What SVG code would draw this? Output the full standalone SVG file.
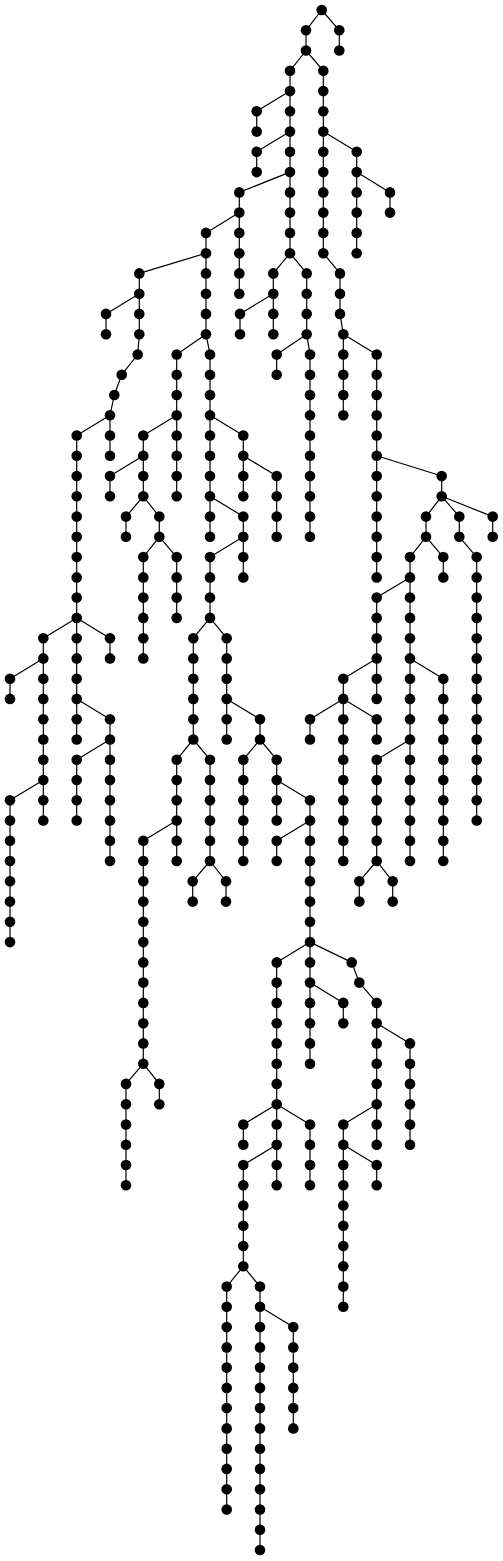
<svg xmlns="http://www.w3.org/2000/svg" xmlns:xlink="http://www.w3.org/1999/xlink" width="503" height="1561" viewBox="0 0 503 1561">
<style>
.edges path{fill:none;stroke:#000;stroke-width:1.2;stroke-linejoin:round}
</style>
<defs><circle id="d" r="5.3" fill="#000"/></defs>
<rect width="503" height="1561" fill="#fff"/>
<g class="edges" id="connectors">
<path d="M321.7,10 L306,30.3 L306,50.5 L290,70.8 L290,253.2"/>
<path d="M306,50.5 L323.3,70.8 L323.3,253.2 L340,273.4 L340,313.9 L343.3,334.2 L343.3,415.3"/>
<path d="M321.7,10 L339.3,30.3 L339.3,50.5"/>
<path d="M290,91.1 L256.7,111.3 L256.7,131.6"/>
<path d="M290,131.6 L256.7,151.8 L256.7,172.1"/>
<path d="M290,172.1 L239.3,192.4 L239.3,293.7"/>
<path d="M239.3,212.6 L206,232.9 L206,334.2 L176.7,354.5 L176.7,496.3"/>
<path d="M206,253.2 L139.3,273.4 L139.3,334.2 L137.7,354.5 L121.7,374.7 L114.3,395 L110,415.3 L76.7,435.5 L76.7,739.5"/>
<path d="M139.3,293.7 L106,313.9 L106,334.2"/>
<path d="M110,415.3 L110,455.8"/>
<path d="M76.7,617.9 L43.3,638.2 L43.3,820.5"/>
<path d="M76.7,617.9 L110,638.2 L110,658.4"/>
<path d="M43.3,658.4 L10,678.7 L10,698.9"/>
<path d="M43.3,780 L10,800.3 L10,942.1"/>
<path d="M76.7,698.9 L110,719.2 L110,861"/>
<path d="M110,739.5 L76.7,759.7 L76.7,820.5"/>
<path d="M176.7,415.3 L143.3,435.5 L143.3,496.3"/>
<path d="M143.3,455.8 L110,476 L110,496.3"/>
<path d="M143.3,496.3 L126,516.6 L126,536.8"/>
<path d="M143.3,496.3 L159.3,516.6 L159.3,536.8 L143.3,557.1 L143.3,658.4"/>
<path d="M159.3,536.8 L176.7,557.1 L176.7,617.9"/>
<path d="M206,334.2 L210,354.5 L210,536.8"/>
<path d="M210,415.3 L243.3,435.5 L243.3,496.3"/>
<path d="M243.3,455.8 L276.7,476 L276.7,536.8"/>
<path d="M210,496.3 L243.3,516.6 L243.3,577.4"/>
<path d="M243.3,536.8 L210,557.1 L210,617.9 L193.3,638.2 L193.3,739.5"/>
<path d="M210,617.9 L226.7,638.2 L226.7,739.5"/>
<path d="M226.7,698.9 L260,719.2 L260,739.5"/>
<path d="M193.3,739.5 L176.7,759.7 L176.7,861"/>
<path d="M176.7,820.5 L143.3,840.8 L143.3,1063.7"/>
<path d="M143.3,1063.7 L126,1083.9 L126,1185.3"/>
<path d="M143.3,1063.7 L159.3,1083.9 L159.3,1104.2"/>
<path d="M193.3,739.5 L210,759.7 L210,861"/>
<path d="M210,861 L192.7,881.3 L192.7,901.6"/>
<path d="M210,861 L226,881.3 L226,901.6"/>
<path d="M260,739.5 L243.3,759.7 L243.3,861"/>
<path d="M260,739.5 L276.7,759.7 L276.7,820.5"/>
<path d="M276.7,780 L310,800.3 L310,942.1"/>
<path d="M310,820.5 L276.7,840.8 L276.7,861"/>
<path d="M310,942.1 L276.7,962.4 L276.7,1185.3"/>
<path d="M310,942.1 L310,1063.7"/>
<path d="M310,982.6 L343.3,1002.9 L343.3,1023.2"/>
<path d="M310,942.1 L351.7,962.4 L359.3,982.6 L376.7,1002.9 L376.7,1144.7"/>
<path d="M376.7,1023.2 L410,1043.4 L410,1144.7"/>
<path d="M376.7,1104.2 L343.3,1124.5 L343.3,1306.8"/>
<path d="M343.3,1144.7 L376.7,1165 L376.7,1185.3"/>
<path d="M276.7,1104.2 L243.3,1124.5 L243.3,1144.7"/>
<path d="M276.7,1104.2 L310,1124.5 L310,1185.3"/>
<path d="M276.7,1144.7 L243.3,1165 L243.3,1266.3"/>
<path d="M243.3,1266.3 L226.7,1286.6 L226.7,1509.5"/>
<path d="M243.3,1266.3 L260,1286.6 L260,1550"/>
<path d="M260,1306.8 L293.3,1327.1 L293.3,1428.4"/>
<path d="M323.3,131.6 L356.7,151.8 L356.7,253.2"/>
<path d="M356.7,172.1 L390,192.4 L390,212.6"/>
<path d="M290,253.2 L273.3,273.4 L273.3,334.2"/>
<path d="M273.3,293.7 L240,313.9 L240,334.2"/>
<path d="M290,253.2 L306.7,273.4 L306.7,334.2 L310,354.5 L310,536.8"/>
<path d="M306.7,334.2 L276.7,354.5 L276.7,374.7"/>
<path d="M343.3,334.2 L376.7,354.5 L376.7,577.4"/>
<path d="M376.7,455.8 L441.7,476 L441.7,496.3"/>
<path d="M441.7,496.3 L426,516.6 L426,536.8"/>
<path d="M441.7,496.3 L459.3,516.6 L459.3,536.8 L476.7,557.1 L476.7,820.5"/>
<path d="M441.7,496.3 L492.7,516.6 L492.7,536.8"/>
<path d="M426,536.8 L410,557.1 L410,861"/>
<path d="M426,536.8 L443.3,557.1 L443.3,577.4"/>
<path d="M410,577.4 L376.7,597.6 L376.7,698.9"/>
<path d="M410,658.4 L443.3,678.7 L443.3,861"/>
<path d="M410,739.5 L376.7,759.7 L376.7,861"/>
<path d="M376.7,861 L359.3,881.3 L359.3,901.6"/>
<path d="M376.7,861 L392.7,881.3 L392.7,901.6"/>
<path d="M376.7,658.4 L343.3,678.7 L343.3,861"/>
<path d="M343.3,698.9 L310,719.2 L310,739.5"/>
<path d="M343.3,698.9 L376.7,719.2 L376.7,739.5"/>
</g>
<g id="nodes">
<g id="n1"><use href="#d" x="321.7" y="10"/></g>
<g id="n2"><use href="#d" x="306" y="30.3"/></g>
<g id="n3"><use href="#d" x="306" y="50.5"/></g>
<g id="n4"><use href="#d" x="290" y="70.8"/></g>
<g id="n5"><use href="#d" x="290" y="91.1"/></g>
<g id="n6"><use href="#d" x="290" y="111.3"/></g>
<g id="n7"><use href="#d" x="290" y="131.6"/></g>
<g id="n8"><use href="#d" x="290" y="151.8"/></g>
<g id="n9"><use href="#d" x="290" y="172.1"/></g>
<g id="n10"><use href="#d" x="290" y="192.4"/></g>
<g id="n11"><use href="#d" x="290" y="212.6"/></g>
<g id="n12"><use href="#d" x="290" y="232.9"/></g>
<g id="n13"><use href="#d" x="290" y="253.2"/></g>
<g id="n14"><use href="#d" x="323.3" y="70.8"/></g>
<g id="n15"><use href="#d" x="323.3" y="91.1"/></g>
<g id="n16"><use href="#d" x="323.3" y="111.3"/></g>
<g id="n17"><use href="#d" x="323.3" y="131.6"/></g>
<g id="n18"><use href="#d" x="323.3" y="151.8"/></g>
<g id="n19"><use href="#d" x="323.3" y="172.1"/></g>
<g id="n20"><use href="#d" x="323.3" y="192.4"/></g>
<g id="n21"><use href="#d" x="323.3" y="212.6"/></g>
<g id="n22"><use href="#d" x="323.3" y="232.9"/></g>
<g id="n23"><use href="#d" x="323.3" y="253.2"/></g>
<g id="n24"><use href="#d" x="340" y="273.4"/></g>
<g id="n25"><use href="#d" x="340" y="293.7"/></g>
<g id="n26"><use href="#d" x="340" y="313.9"/></g>
<g id="n27"><use href="#d" x="343.3" y="334.2"/></g>
<g id="n28"><use href="#d" x="343.3" y="354.5"/></g>
<g id="n29"><use href="#d" x="343.3" y="374.7"/></g>
<g id="n30"><use href="#d" x="343.3" y="395"/></g>
<g id="n31"><use href="#d" x="343.3" y="415.3"/></g>
<g id="n32"><use href="#d" x="339.3" y="30.3"/></g>
<g id="n33"><use href="#d" x="339.3" y="50.5"/></g>
<g id="n34"><use href="#d" x="256.7" y="111.3"/></g>
<g id="n35"><use href="#d" x="256.7" y="131.6"/></g>
<g id="n36"><use href="#d" x="256.7" y="151.8"/></g>
<g id="n37"><use href="#d" x="256.7" y="172.1"/></g>
<g id="n38"><use href="#d" x="239.3" y="192.4"/></g>
<g id="n39"><use href="#d" x="239.3" y="212.6"/></g>
<g id="n40"><use href="#d" x="239.3" y="232.9"/></g>
<g id="n41"><use href="#d" x="239.3" y="253.2"/></g>
<g id="n42"><use href="#d" x="239.3" y="273.4"/></g>
<g id="n43"><use href="#d" x="239.3" y="293.7"/></g>
<g id="n44"><use href="#d" x="206" y="232.9"/></g>
<g id="n45"><use href="#d" x="206" y="253.2"/></g>
<g id="n46"><use href="#d" x="206" y="273.4"/></g>
<g id="n47"><use href="#d" x="206" y="293.7"/></g>
<g id="n48"><use href="#d" x="206" y="313.9"/></g>
<g id="n49"><use href="#d" x="206" y="334.2"/></g>
<g id="n50"><use href="#d" x="176.7" y="354.5"/></g>
<g id="n51"><use href="#d" x="176.7" y="374.7"/></g>
<g id="n52"><use href="#d" x="176.7" y="395"/></g>
<g id="n53"><use href="#d" x="176.7" y="415.3"/></g>
<g id="n54"><use href="#d" x="176.7" y="435.5"/></g>
<g id="n55"><use href="#d" x="176.7" y="455.8"/></g>
<g id="n56"><use href="#d" x="176.7" y="476"/></g>
<g id="n57"><use href="#d" x="176.7" y="496.3"/></g>
<g id="n58"><use href="#d" x="139.3" y="273.4"/></g>
<g id="n59"><use href="#d" x="139.3" y="293.7"/></g>
<g id="n60"><use href="#d" x="139.3" y="313.9"/></g>
<g id="n61"><use href="#d" x="139.3" y="334.2"/></g>
<g id="n62"><use href="#d" x="137.7" y="354.5"/></g>
<g id="n63"><use href="#d" x="121.7" y="374.7"/></g>
<g id="n64"><use href="#d" x="114.3" y="395"/></g>
<g id="n65"><use href="#d" x="110" y="415.3"/></g>
<g id="n66"><use href="#d" x="76.7" y="435.5"/></g>
<g id="n67"><use href="#d" x="76.7" y="455.8"/></g>
<g id="n68"><use href="#d" x="76.7" y="476"/></g>
<g id="n69"><use href="#d" x="76.7" y="496.3"/></g>
<g id="n70"><use href="#d" x="76.7" y="516.6"/></g>
<g id="n71"><use href="#d" x="76.7" y="536.8"/></g>
<g id="n72"><use href="#d" x="76.7" y="557.1"/></g>
<g id="n73"><use href="#d" x="76.7" y="577.4"/></g>
<g id="n74"><use href="#d" x="76.7" y="597.6"/></g>
<g id="n75"><use href="#d" x="76.7" y="617.9"/></g>
<g id="n76"><use href="#d" x="76.7" y="638.2"/></g>
<g id="n77"><use href="#d" x="76.7" y="658.4"/></g>
<g id="n78"><use href="#d" x="76.7" y="678.7"/></g>
<g id="n79"><use href="#d" x="76.7" y="698.9"/></g>
<g id="n80"><use href="#d" x="76.7" y="719.2"/></g>
<g id="n81"><use href="#d" x="76.7" y="739.5"/></g>
<g id="n82"><use href="#d" x="106" y="313.9"/></g>
<g id="n83"><use href="#d" x="106" y="334.2"/></g>
<g id="n84"><use href="#d" x="110" y="435.5"/></g>
<g id="n85"><use href="#d" x="110" y="455.8"/></g>
<g id="n86"><use href="#d" x="43.3" y="638.2"/></g>
<g id="n87"><use href="#d" x="43.3" y="658.4"/></g>
<g id="n88"><use href="#d" x="43.3" y="678.7"/></g>
<g id="n89"><use href="#d" x="43.3" y="698.9"/></g>
<g id="n90"><use href="#d" x="43.3" y="719.2"/></g>
<g id="n91"><use href="#d" x="43.3" y="739.5"/></g>
<g id="n92"><use href="#d" x="43.3" y="759.7"/></g>
<g id="n93"><use href="#d" x="43.3" y="780"/></g>
<g id="n94"><use href="#d" x="43.3" y="800.3"/></g>
<g id="n95"><use href="#d" x="43.3" y="820.5"/></g>
<g id="n96"><use href="#d" x="110" y="638.2"/></g>
<g id="n97"><use href="#d" x="110" y="658.4"/></g>
<g id="n98"><use href="#d" x="10" y="678.7"/></g>
<g id="n99"><use href="#d" x="10" y="698.9"/></g>
<g id="n100"><use href="#d" x="10" y="800.3"/></g>
<g id="n101"><use href="#d" x="10" y="820.5"/></g>
<g id="n102"><use href="#d" x="10" y="840.8"/></g>
<g id="n103"><use href="#d" x="10" y="861"/></g>
<g id="n104"><use href="#d" x="10" y="881.3"/></g>
<g id="n105"><use href="#d" x="10" y="901.6"/></g>
<g id="n106"><use href="#d" x="10" y="921.8"/></g>
<g id="n107"><use href="#d" x="10" y="942.1"/></g>
<g id="n108"><use href="#d" x="110" y="719.2"/></g>
<g id="n109"><use href="#d" x="110" y="739.5"/></g>
<g id="n110"><use href="#d" x="110" y="759.7"/></g>
<g id="n111"><use href="#d" x="110" y="780"/></g>
<g id="n112"><use href="#d" x="110" y="800.3"/></g>
<g id="n113"><use href="#d" x="110" y="820.5"/></g>
<g id="n114"><use href="#d" x="110" y="840.8"/></g>
<g id="n115"><use href="#d" x="110" y="861"/></g>
<g id="n116"><use href="#d" x="76.7" y="759.7"/></g>
<g id="n117"><use href="#d" x="76.7" y="780"/></g>
<g id="n118"><use href="#d" x="76.7" y="800.3"/></g>
<g id="n119"><use href="#d" x="76.7" y="820.5"/></g>
<g id="n120"><use href="#d" x="143.3" y="435.5"/></g>
<g id="n121"><use href="#d" x="143.3" y="455.8"/></g>
<g id="n122"><use href="#d" x="143.3" y="476"/></g>
<g id="n123"><use href="#d" x="143.3" y="496.3"/></g>
<g id="n124"><use href="#d" x="110" y="476"/></g>
<g id="n125"><use href="#d" x="110" y="496.3"/></g>
<g id="n126"><use href="#d" x="126" y="516.6"/></g>
<g id="n127"><use href="#d" x="126" y="536.8"/></g>
<g id="n128"><use href="#d" x="159.3" y="516.6"/></g>
<g id="n129"><use href="#d" x="159.3" y="536.8"/></g>
<g id="n130"><use href="#d" x="143.3" y="557.1"/></g>
<g id="n131"><use href="#d" x="143.3" y="577.4"/></g>
<g id="n132"><use href="#d" x="143.3" y="597.6"/></g>
<g id="n133"><use href="#d" x="143.3" y="617.9"/></g>
<g id="n134"><use href="#d" x="143.3" y="638.2"/></g>
<g id="n135"><use href="#d" x="143.3" y="658.4"/></g>
<g id="n136"><use href="#d" x="176.7" y="557.1"/></g>
<g id="n137"><use href="#d" x="176.7" y="577.4"/></g>
<g id="n138"><use href="#d" x="176.7" y="597.6"/></g>
<g id="n139"><use href="#d" x="176.7" y="617.9"/></g>
<g id="n140"><use href="#d" x="210" y="354.5"/></g>
<g id="n141"><use href="#d" x="210" y="374.7"/></g>
<g id="n142"><use href="#d" x="210" y="395"/></g>
<g id="n143"><use href="#d" x="210" y="415.3"/></g>
<g id="n144"><use href="#d" x="210" y="435.5"/></g>
<g id="n145"><use href="#d" x="210" y="455.8"/></g>
<g id="n146"><use href="#d" x="210" y="476"/></g>
<g id="n147"><use href="#d" x="210" y="496.3"/></g>
<g id="n148"><use href="#d" x="210" y="516.6"/></g>
<g id="n149"><use href="#d" x="210" y="536.8"/></g>
<g id="n150"><use href="#d" x="243.3" y="435.5"/></g>
<g id="n151"><use href="#d" x="243.3" y="455.8"/></g>
<g id="n152"><use href="#d" x="243.3" y="476"/></g>
<g id="n153"><use href="#d" x="243.3" y="496.3"/></g>
<g id="n154"><use href="#d" x="276.7" y="476"/></g>
<g id="n155"><use href="#d" x="276.7" y="496.3"/></g>
<g id="n156"><use href="#d" x="276.7" y="516.6"/></g>
<g id="n157"><use href="#d" x="276.7" y="536.8"/></g>
<g id="n158"><use href="#d" x="243.3" y="516.6"/></g>
<g id="n159"><use href="#d" x="243.3" y="536.8"/></g>
<g id="n160"><use href="#d" x="243.3" y="557.1"/></g>
<g id="n161"><use href="#d" x="243.3" y="577.4"/></g>
<g id="n162"><use href="#d" x="210" y="557.1"/></g>
<g id="n163"><use href="#d" x="210" y="577.4"/></g>
<g id="n164"><use href="#d" x="210" y="597.6"/></g>
<g id="n165"><use href="#d" x="210" y="617.9"/></g>
<g id="n166"><use href="#d" x="193.3" y="638.2"/></g>
<g id="n167"><use href="#d" x="193.3" y="658.4"/></g>
<g id="n168"><use href="#d" x="193.3" y="678.7"/></g>
<g id="n169"><use href="#d" x="193.3" y="698.9"/></g>
<g id="n170"><use href="#d" x="193.3" y="719.2"/></g>
<g id="n171"><use href="#d" x="193.3" y="739.5"/></g>
<g id="n172"><use href="#d" x="226.7" y="638.2"/></g>
<g id="n173"><use href="#d" x="226.7" y="658.4"/></g>
<g id="n174"><use href="#d" x="226.7" y="678.7"/></g>
<g id="n175"><use href="#d" x="226.7" y="698.9"/></g>
<g id="n176"><use href="#d" x="226.7" y="719.2"/></g>
<g id="n177"><use href="#d" x="226.7" y="739.5"/></g>
<g id="n178"><use href="#d" x="260" y="719.2"/></g>
<g id="n179"><use href="#d" x="260" y="739.5"/></g>
<g id="n180"><use href="#d" x="176.7" y="759.7"/></g>
<g id="n181"><use href="#d" x="176.7" y="780"/></g>
<g id="n182"><use href="#d" x="176.7" y="800.3"/></g>
<g id="n183"><use href="#d" x="176.7" y="820.5"/></g>
<g id="n184"><use href="#d" x="176.7" y="840.8"/></g>
<g id="n185"><use href="#d" x="176.7" y="861"/></g>
<g id="n186"><use href="#d" x="143.3" y="840.8"/></g>
<g id="n187"><use href="#d" x="143.3" y="861"/></g>
<g id="n188"><use href="#d" x="143.3" y="881.3"/></g>
<g id="n189"><use href="#d" x="143.3" y="901.6"/></g>
<g id="n190"><use href="#d" x="143.3" y="921.8"/></g>
<g id="n191"><use href="#d" x="143.3" y="942.1"/></g>
<g id="n192"><use href="#d" x="143.3" y="962.4"/></g>
<g id="n193"><use href="#d" x="143.3" y="982.6"/></g>
<g id="n194"><use href="#d" x="143.3" y="1002.9"/></g>
<g id="n195"><use href="#d" x="143.3" y="1023.2"/></g>
<g id="n196"><use href="#d" x="143.3" y="1043.4"/></g>
<g id="n197"><use href="#d" x="143.3" y="1063.7"/></g>
<g id="n198"><use href="#d" x="126" y="1083.9"/></g>
<g id="n199"><use href="#d" x="126" y="1104.2"/></g>
<g id="n200"><use href="#d" x="126" y="1124.5"/></g>
<g id="n201"><use href="#d" x="126" y="1144.7"/></g>
<g id="n202"><use href="#d" x="126" y="1165"/></g>
<g id="n203"><use href="#d" x="126" y="1185.3"/></g>
<g id="n204"><use href="#d" x="159.3" y="1083.9"/></g>
<g id="n205"><use href="#d" x="159.3" y="1104.2"/></g>
<g id="n206"><use href="#d" x="210" y="759.7"/></g>
<g id="n207"><use href="#d" x="210" y="780"/></g>
<g id="n208"><use href="#d" x="210" y="800.3"/></g>
<g id="n209"><use href="#d" x="210" y="820.5"/></g>
<g id="n210"><use href="#d" x="210" y="840.8"/></g>
<g id="n211"><use href="#d" x="210" y="861"/></g>
<g id="n212"><use href="#d" x="192.7" y="881.3"/></g>
<g id="n213"><use href="#d" x="192.7" y="901.6"/></g>
<g id="n214"><use href="#d" x="226" y="881.3"/></g>
<g id="n215"><use href="#d" x="226" y="901.6"/></g>
<g id="n216"><use href="#d" x="243.3" y="759.7"/></g>
<g id="n217"><use href="#d" x="243.3" y="780"/></g>
<g id="n218"><use href="#d" x="243.3" y="800.3"/></g>
<g id="n219"><use href="#d" x="243.3" y="820.5"/></g>
<g id="n220"><use href="#d" x="243.3" y="840.8"/></g>
<g id="n221"><use href="#d" x="243.3" y="861"/></g>
<g id="n222"><use href="#d" x="276.7" y="759.7"/></g>
<g id="n223"><use href="#d" x="276.7" y="780"/></g>
<g id="n224"><use href="#d" x="276.7" y="800.3"/></g>
<g id="n225"><use href="#d" x="276.7" y="820.5"/></g>
<g id="n226"><use href="#d" x="310" y="800.3"/></g>
<g id="n227"><use href="#d" x="310" y="820.5"/></g>
<g id="n228"><use href="#d" x="310" y="840.8"/></g>
<g id="n229"><use href="#d" x="310" y="861"/></g>
<g id="n230"><use href="#d" x="310" y="881.3"/></g>
<g id="n231"><use href="#d" x="310" y="901.6"/></g>
<g id="n232"><use href="#d" x="310" y="921.8"/></g>
<g id="n233"><use href="#d" x="310" y="942.1"/></g>
<g id="n234"><use href="#d" x="276.7" y="840.8"/></g>
<g id="n235"><use href="#d" x="276.7" y="861"/></g>
<g id="n236"><use href="#d" x="276.7" y="962.4"/></g>
<g id="n237"><use href="#d" x="276.7" y="982.6"/></g>
<g id="n238"><use href="#d" x="276.7" y="1002.9"/></g>
<g id="n239"><use href="#d" x="276.7" y="1023.2"/></g>
<g id="n240"><use href="#d" x="276.7" y="1043.4"/></g>
<g id="n241"><use href="#d" x="276.7" y="1063.7"/></g>
<g id="n242"><use href="#d" x="276.7" y="1083.9"/></g>
<g id="n243"><use href="#d" x="276.7" y="1104.2"/></g>
<g id="n244"><use href="#d" x="276.7" y="1124.5"/></g>
<g id="n245"><use href="#d" x="276.7" y="1144.7"/></g>
<g id="n246"><use href="#d" x="276.7" y="1165"/></g>
<g id="n247"><use href="#d" x="276.7" y="1185.3"/></g>
<g id="n248"><use href="#d" x="310" y="962.4"/></g>
<g id="n249"><use href="#d" x="310" y="982.6"/></g>
<g id="n250"><use href="#d" x="310" y="1002.9"/></g>
<g id="n251"><use href="#d" x="310" y="1023.2"/></g>
<g id="n252"><use href="#d" x="310" y="1043.4"/></g>
<g id="n253"><use href="#d" x="310" y="1063.7"/></g>
<g id="n254"><use href="#d" x="343.3" y="1002.9"/></g>
<g id="n255"><use href="#d" x="343.3" y="1023.2"/></g>
<g id="n256"><use href="#d" x="351.7" y="962.4"/></g>
<g id="n257"><use href="#d" x="359.3" y="982.6"/></g>
<g id="n258"><use href="#d" x="376.7" y="1002.9"/></g>
<g id="n259"><use href="#d" x="376.7" y="1023.2"/></g>
<g id="n260"><use href="#d" x="376.7" y="1043.4"/></g>
<g id="n261"><use href="#d" x="376.7" y="1063.7"/></g>
<g id="n262"><use href="#d" x="376.7" y="1083.9"/></g>
<g id="n263"><use href="#d" x="376.7" y="1104.2"/></g>
<g id="n264"><use href="#d" x="376.7" y="1124.5"/></g>
<g id="n265"><use href="#d" x="376.7" y="1144.7"/></g>
<g id="n266"><use href="#d" x="410" y="1043.4"/></g>
<g id="n267"><use href="#d" x="410" y="1063.7"/></g>
<g id="n268"><use href="#d" x="410" y="1083.9"/></g>
<g id="n269"><use href="#d" x="410" y="1104.2"/></g>
<g id="n270"><use href="#d" x="410" y="1124.5"/></g>
<g id="n271"><use href="#d" x="410" y="1144.7"/></g>
<g id="n272"><use href="#d" x="343.3" y="1124.5"/></g>
<g id="n273"><use href="#d" x="343.3" y="1144.7"/></g>
<g id="n274"><use href="#d" x="343.3" y="1165"/></g>
<g id="n275"><use href="#d" x="343.3" y="1185.3"/></g>
<g id="n276"><use href="#d" x="343.3" y="1205.5"/></g>
<g id="n277"><use href="#d" x="343.3" y="1225.8"/></g>
<g id="n278"><use href="#d" x="343.3" y="1246"/></g>
<g id="n279"><use href="#d" x="343.3" y="1266.3"/></g>
<g id="n280"><use href="#d" x="343.3" y="1286.6"/></g>
<g id="n281"><use href="#d" x="343.3" y="1306.8"/></g>
<g id="n282"><use href="#d" x="376.7" y="1165"/></g>
<g id="n283"><use href="#d" x="376.7" y="1185.3"/></g>
<g id="n284"><use href="#d" x="243.3" y="1124.5"/></g>
<g id="n285"><use href="#d" x="243.3" y="1144.7"/></g>
<g id="n286"><use href="#d" x="310" y="1124.5"/></g>
<g id="n287"><use href="#d" x="310" y="1144.7"/></g>
<g id="n288"><use href="#d" x="310" y="1165"/></g>
<g id="n289"><use href="#d" x="310" y="1185.3"/></g>
<g id="n290"><use href="#d" x="243.3" y="1165"/></g>
<g id="n291"><use href="#d" x="243.3" y="1185.3"/></g>
<g id="n292"><use href="#d" x="243.3" y="1205.5"/></g>
<g id="n293"><use href="#d" x="243.3" y="1225.8"/></g>
<g id="n294"><use href="#d" x="243.3" y="1246"/></g>
<g id="n295"><use href="#d" x="243.3" y="1266.3"/></g>
<g id="n296"><use href="#d" x="226.7" y="1286.6"/></g>
<g id="n297"><use href="#d" x="226.7" y="1306.8"/></g>
<g id="n298"><use href="#d" x="226.7" y="1327.1"/></g>
<g id="n299"><use href="#d" x="226.7" y="1347.4"/></g>
<g id="n300"><use href="#d" x="226.7" y="1367.6"/></g>
<g id="n301"><use href="#d" x="226.7" y="1387.9"/></g>
<g id="n302"><use href="#d" x="226.7" y="1408.1"/></g>
<g id="n303"><use href="#d" x="226.7" y="1428.4"/></g>
<g id="n304"><use href="#d" x="226.7" y="1448.7"/></g>
<g id="n305"><use href="#d" x="226.7" y="1468.9"/></g>
<g id="n306"><use href="#d" x="226.7" y="1489.2"/></g>
<g id="n307"><use href="#d" x="226.7" y="1509.5"/></g>
<g id="n308"><use href="#d" x="260" y="1286.6"/></g>
<g id="n309"><use href="#d" x="260" y="1306.8"/></g>
<g id="n310"><use href="#d" x="260" y="1327.1"/></g>
<g id="n311"><use href="#d" x="260" y="1347.4"/></g>
<g id="n312"><use href="#d" x="260" y="1367.6"/></g>
<g id="n313"><use href="#d" x="260" y="1387.9"/></g>
<g id="n314"><use href="#d" x="260" y="1408.1"/></g>
<g id="n315"><use href="#d" x="260" y="1428.4"/></g>
<g id="n316"><use href="#d" x="260" y="1448.7"/></g>
<g id="n317"><use href="#d" x="260" y="1468.9"/></g>
<g id="n318"><use href="#d" x="260" y="1489.2"/></g>
<g id="n319"><use href="#d" x="260" y="1509.5"/></g>
<g id="n320"><use href="#d" x="260" y="1529.7"/></g>
<g id="n321"><use href="#d" x="260" y="1550"/></g>
<g id="n322"><use href="#d" x="293.3" y="1327.1"/></g>
<g id="n323"><use href="#d" x="293.3" y="1347.4"/></g>
<g id="n324"><use href="#d" x="293.3" y="1367.6"/></g>
<g id="n325"><use href="#d" x="293.3" y="1387.9"/></g>
<g id="n326"><use href="#d" x="293.3" y="1408.1"/></g>
<g id="n327"><use href="#d" x="293.3" y="1428.4"/></g>
<g id="n328"><use href="#d" x="356.7" y="151.8"/></g>
<g id="n329"><use href="#d" x="356.7" y="172.1"/></g>
<g id="n330"><use href="#d" x="356.7" y="192.4"/></g>
<g id="n331"><use href="#d" x="356.7" y="212.6"/></g>
<g id="n332"><use href="#d" x="356.7" y="232.9"/></g>
<g id="n333"><use href="#d" x="356.7" y="253.2"/></g>
<g id="n334"><use href="#d" x="390" y="192.4"/></g>
<g id="n335"><use href="#d" x="390" y="212.6"/></g>
<g id="n336"><use href="#d" x="273.3" y="273.4"/></g>
<g id="n337"><use href="#d" x="273.3" y="293.7"/></g>
<g id="n338"><use href="#d" x="273.3" y="313.9"/></g>
<g id="n339"><use href="#d" x="273.3" y="334.2"/></g>
<g id="n340"><use href="#d" x="240" y="313.9"/></g>
<g id="n341"><use href="#d" x="240" y="334.2"/></g>
<g id="n342"><use href="#d" x="306.7" y="273.4"/></g>
<g id="n343"><use href="#d" x="306.7" y="293.7"/></g>
<g id="n344"><use href="#d" x="306.7" y="313.9"/></g>
<g id="n345"><use href="#d" x="306.7" y="334.2"/></g>
<g id="n346"><use href="#d" x="310" y="354.5"/></g>
<g id="n347"><use href="#d" x="310" y="374.7"/></g>
<g id="n348"><use href="#d" x="310" y="395"/></g>
<g id="n349"><use href="#d" x="310" y="415.3"/></g>
<g id="n350"><use href="#d" x="310" y="435.5"/></g>
<g id="n351"><use href="#d" x="310" y="455.8"/></g>
<g id="n352"><use href="#d" x="310" y="476"/></g>
<g id="n353"><use href="#d" x="310" y="496.3"/></g>
<g id="n354"><use href="#d" x="310" y="516.6"/></g>
<g id="n355"><use href="#d" x="310" y="536.8"/></g>
<g id="n356"><use href="#d" x="276.7" y="354.5"/></g>
<g id="n357"><use href="#d" x="276.7" y="374.7"/></g>
<g id="n358"><use href="#d" x="376.7" y="354.5"/></g>
<g id="n359"><use href="#d" x="376.7" y="374.7"/></g>
<g id="n360"><use href="#d" x="376.7" y="395"/></g>
<g id="n361"><use href="#d" x="376.7" y="415.3"/></g>
<g id="n362"><use href="#d" x="376.7" y="435.5"/></g>
<g id="n363"><use href="#d" x="376.7" y="455.8"/></g>
<g id="n364"><use href="#d" x="376.7" y="476"/></g>
<g id="n365"><use href="#d" x="376.7" y="496.3"/></g>
<g id="n366"><use href="#d" x="376.7" y="516.6"/></g>
<g id="n367"><use href="#d" x="376.7" y="536.8"/></g>
<g id="n368"><use href="#d" x="376.7" y="557.1"/></g>
<g id="n369"><use href="#d" x="376.7" y="577.4"/></g>
<g id="n370"><use href="#d" x="441.7" y="476"/></g>
<g id="n371"><use href="#d" x="441.7" y="496.3"/></g>
<g id="n372"><use href="#d" x="426" y="516.6"/></g>
<g id="n373"><use href="#d" x="426" y="536.8"/></g>
<g id="n374"><use href="#d" x="459.3" y="516.6"/></g>
<g id="n375"><use href="#d" x="459.3" y="536.8"/></g>
<g id="n376"><use href="#d" x="476.7" y="557.1"/></g>
<g id="n377"><use href="#d" x="476.7" y="577.4"/></g>
<g id="n378"><use href="#d" x="476.7" y="597.6"/></g>
<g id="n379"><use href="#d" x="476.7" y="617.9"/></g>
<g id="n380"><use href="#d" x="476.7" y="638.2"/></g>
<g id="n381"><use href="#d" x="476.7" y="658.4"/></g>
<g id="n382"><use href="#d" x="476.7" y="678.7"/></g>
<g id="n383"><use href="#d" x="476.7" y="698.9"/></g>
<g id="n384"><use href="#d" x="476.7" y="719.2"/></g>
<g id="n385"><use href="#d" x="476.7" y="739.5"/></g>
<g id="n386"><use href="#d" x="476.7" y="759.7"/></g>
<g id="n387"><use href="#d" x="476.7" y="780"/></g>
<g id="n388"><use href="#d" x="476.7" y="800.3"/></g>
<g id="n389"><use href="#d" x="476.7" y="820.5"/></g>
<g id="n390"><use href="#d" x="492.7" y="516.6"/></g>
<g id="n391"><use href="#d" x="492.7" y="536.8"/></g>
<g id="n392"><use href="#d" x="410" y="557.1"/></g>
<g id="n393"><use href="#d" x="410" y="577.4"/></g>
<g id="n394"><use href="#d" x="410" y="597.6"/></g>
<g id="n395"><use href="#d" x="410" y="617.9"/></g>
<g id="n396"><use href="#d" x="410" y="638.2"/></g>
<g id="n397"><use href="#d" x="410" y="658.4"/></g>
<g id="n398"><use href="#d" x="410" y="678.7"/></g>
<g id="n399"><use href="#d" x="410" y="698.9"/></g>
<g id="n400"><use href="#d" x="410" y="719.2"/></g>
<g id="n401"><use href="#d" x="410" y="739.5"/></g>
<g id="n402"><use href="#d" x="410" y="759.7"/></g>
<g id="n403"><use href="#d" x="410" y="780"/></g>
<g id="n404"><use href="#d" x="410" y="800.3"/></g>
<g id="n405"><use href="#d" x="410" y="820.5"/></g>
<g id="n406"><use href="#d" x="410" y="840.8"/></g>
<g id="n407"><use href="#d" x="410" y="861"/></g>
<g id="n408"><use href="#d" x="443.3" y="557.1"/></g>
<g id="n409"><use href="#d" x="443.3" y="577.4"/></g>
<g id="n410"><use href="#d" x="376.7" y="597.6"/></g>
<g id="n411"><use href="#d" x="376.7" y="617.9"/></g>
<g id="n412"><use href="#d" x="376.7" y="638.2"/></g>
<g id="n413"><use href="#d" x="376.7" y="658.4"/></g>
<g id="n414"><use href="#d" x="376.7" y="678.7"/></g>
<g id="n415"><use href="#d" x="376.7" y="698.9"/></g>
<g id="n416"><use href="#d" x="443.3" y="678.7"/></g>
<g id="n417"><use href="#d" x="443.3" y="698.9"/></g>
<g id="n418"><use href="#d" x="443.3" y="719.2"/></g>
<g id="n419"><use href="#d" x="443.3" y="739.5"/></g>
<g id="n420"><use href="#d" x="443.3" y="759.7"/></g>
<g id="n421"><use href="#d" x="443.3" y="780"/></g>
<g id="n422"><use href="#d" x="443.3" y="800.3"/></g>
<g id="n423"><use href="#d" x="443.3" y="820.5"/></g>
<g id="n424"><use href="#d" x="443.3" y="840.8"/></g>
<g id="n425"><use href="#d" x="443.3" y="861"/></g>
<g id="n426"><use href="#d" x="376.7" y="759.7"/></g>
<g id="n427"><use href="#d" x="376.7" y="780"/></g>
<g id="n428"><use href="#d" x="376.7" y="800.3"/></g>
<g id="n429"><use href="#d" x="376.7" y="820.5"/></g>
<g id="n430"><use href="#d" x="376.7" y="840.8"/></g>
<g id="n431"><use href="#d" x="376.7" y="861"/></g>
<g id="n432"><use href="#d" x="359.3" y="881.3"/></g>
<g id="n433"><use href="#d" x="359.3" y="901.6"/></g>
<g id="n434"><use href="#d" x="392.7" y="881.3"/></g>
<g id="n435"><use href="#d" x="392.7" y="901.6"/></g>
<g id="n436"><use href="#d" x="343.3" y="678.7"/></g>
<g id="n437"><use href="#d" x="343.3" y="698.9"/></g>
<g id="n438"><use href="#d" x="343.3" y="719.2"/></g>
<g id="n439"><use href="#d" x="343.3" y="739.5"/></g>
<g id="n440"><use href="#d" x="343.3" y="759.7"/></g>
<g id="n441"><use href="#d" x="343.3" y="780"/></g>
<g id="n442"><use href="#d" x="343.3" y="800.3"/></g>
<g id="n443"><use href="#d" x="343.3" y="820.5"/></g>
<g id="n444"><use href="#d" x="343.3" y="840.8"/></g>
<g id="n445"><use href="#d" x="343.3" y="861"/></g>
<g id="n446"><use href="#d" x="310" y="719.2"/></g>
<g id="n447"><use href="#d" x="310" y="739.5"/></g>
<g id="n448"><use href="#d" x="376.7" y="719.2"/></g>
<g id="n449"><use href="#d" x="376.7" y="739.5"/></g>
</g>
</svg>
